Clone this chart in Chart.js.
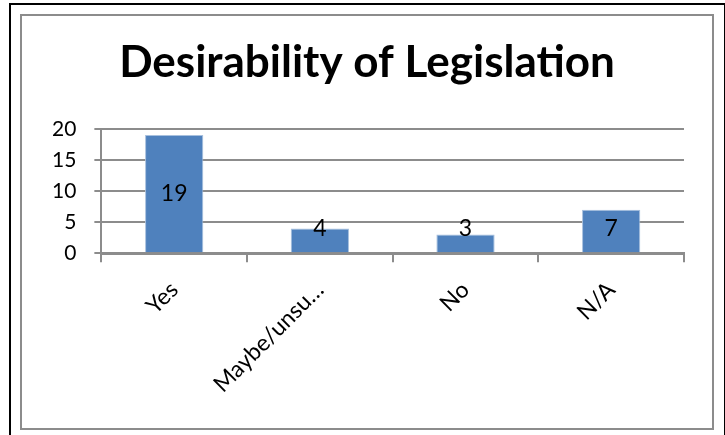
<!DOCTYPE html>
<html>
<head>
<meta charset="utf-8">
<script src="https://cdn.jsdelivr.net/npm/chart.js@4"></script>
<style>
  body { margin: 0; background: #fff; }
  #outer { position: absolute; left: 9px; top: 3px; width: 713px; height: 440px; border: 2px solid #000; }
  #inner { position: absolute; left: 20px; top: 14px; width: 690px; height: 412px; border: 2px solid #8c8c8c; }
  canvas { display: block; }
</style>
</head>
<body>
<div id="outer"></div>
<div id="inner"><canvas id="chart" width="690" height="412"></canvas></div>
<script>
// Chart data
const categories = ['Yes', 'Maybe/unsure', 'No', 'N/A'];
const responses = [19, 4, 3, 7];
const yTicks = [0, 5, 10, 15, 20];

// Draw value labels on the bars, like Excel's "center" labels
const barLabels = {
    id: 'barLabels',
    afterDatasetsDraw(chart) {
        const ctx = chart.ctx;
        const meta = chart.getDatasetMeta(0);
        ctx.save();
        ctx.font = '23px Lato';
        ctx.fillStyle = '#000';
        ctx.textAlign = 'center';
        ctx.textBaseline = 'middle';
        meta.data.forEach((bar, i) => {
            const p = bar.getProps(['x', 'y', 'base'], true);
            const y = Math.min((p.y + p.base) / 2, p.base - 24);
            ctx.fillText(String(responses[i]), p.x, y);
        });
        ctx.restore();
    }
};

const ctx = document.getElementById('chart').getContext('2d');
new Chart(ctx, {
    type: 'bar',
    data: {
        labels: categories,
        datasets: [{
            data: responses,
            backgroundColor: '#4F81BD',
            borderColor: '#A7C0DE',
            borderWidth: 1,
            barPercentage: 0.4,
            categoryPercentage: 1
        }]
    },
    options: {
        responsive: false,
        animation: false,
        layout: { padding: { left: 28, right: 28, top: 20, bottom: 16 } },
        plugins: {
            legend: { display: false },
            tooltip: { enabled: false },
            title: {
                display: true,
                text: 'Desirability of Legislation',
                color: '#000',
                font: { family: 'Lato', size: 44, weight: 'bold' },
                padding: { top: 0, bottom: 40 }
            }
        },
        scales: {
            x: {
                grid: {
                    offset: true,
                    drawOnChartArea: false,
                    color: '#8c8c8c',
                    lineWidth: 2,
                    tickLength: 9
                },
                border: { color: '#8c8c8c', width: 3 },
                ticks: {
                    color: '#000',
                    font: { family: 'Lato', size: 23 },
                    minRotation: 45,
                    maxRotation: 45,
                    padding: 14,
                    callback(value, index) {
                        const s = categories[index];
                        return s.length > 10 ? s.slice(0, 10) + '\u2026' : s;
                    }
                }
            },
            y: {
                min: 0,
                max: 20,
                afterBuildTicks(axis) {
                    axis.ticks = yTicks.map(v => ({ value: v }));
                },
                afterFit(axis) {
                    // keep the title centred on the frame while the plot starts further left
                    axis.width -= 16;
                },
                grid: { color: '#8c8c8c', lineWidth: 2, tickLength: 7 },
                border: { color: '#8c8c8c', width: 2 },
                ticks: {
                    color: '#000',
                    font: { family: 'Lato', size: 21 },
                    padding: 18
                }
            }
        }
    },
    plugins: [barLabels]
});
</script>
</body>
</html>
